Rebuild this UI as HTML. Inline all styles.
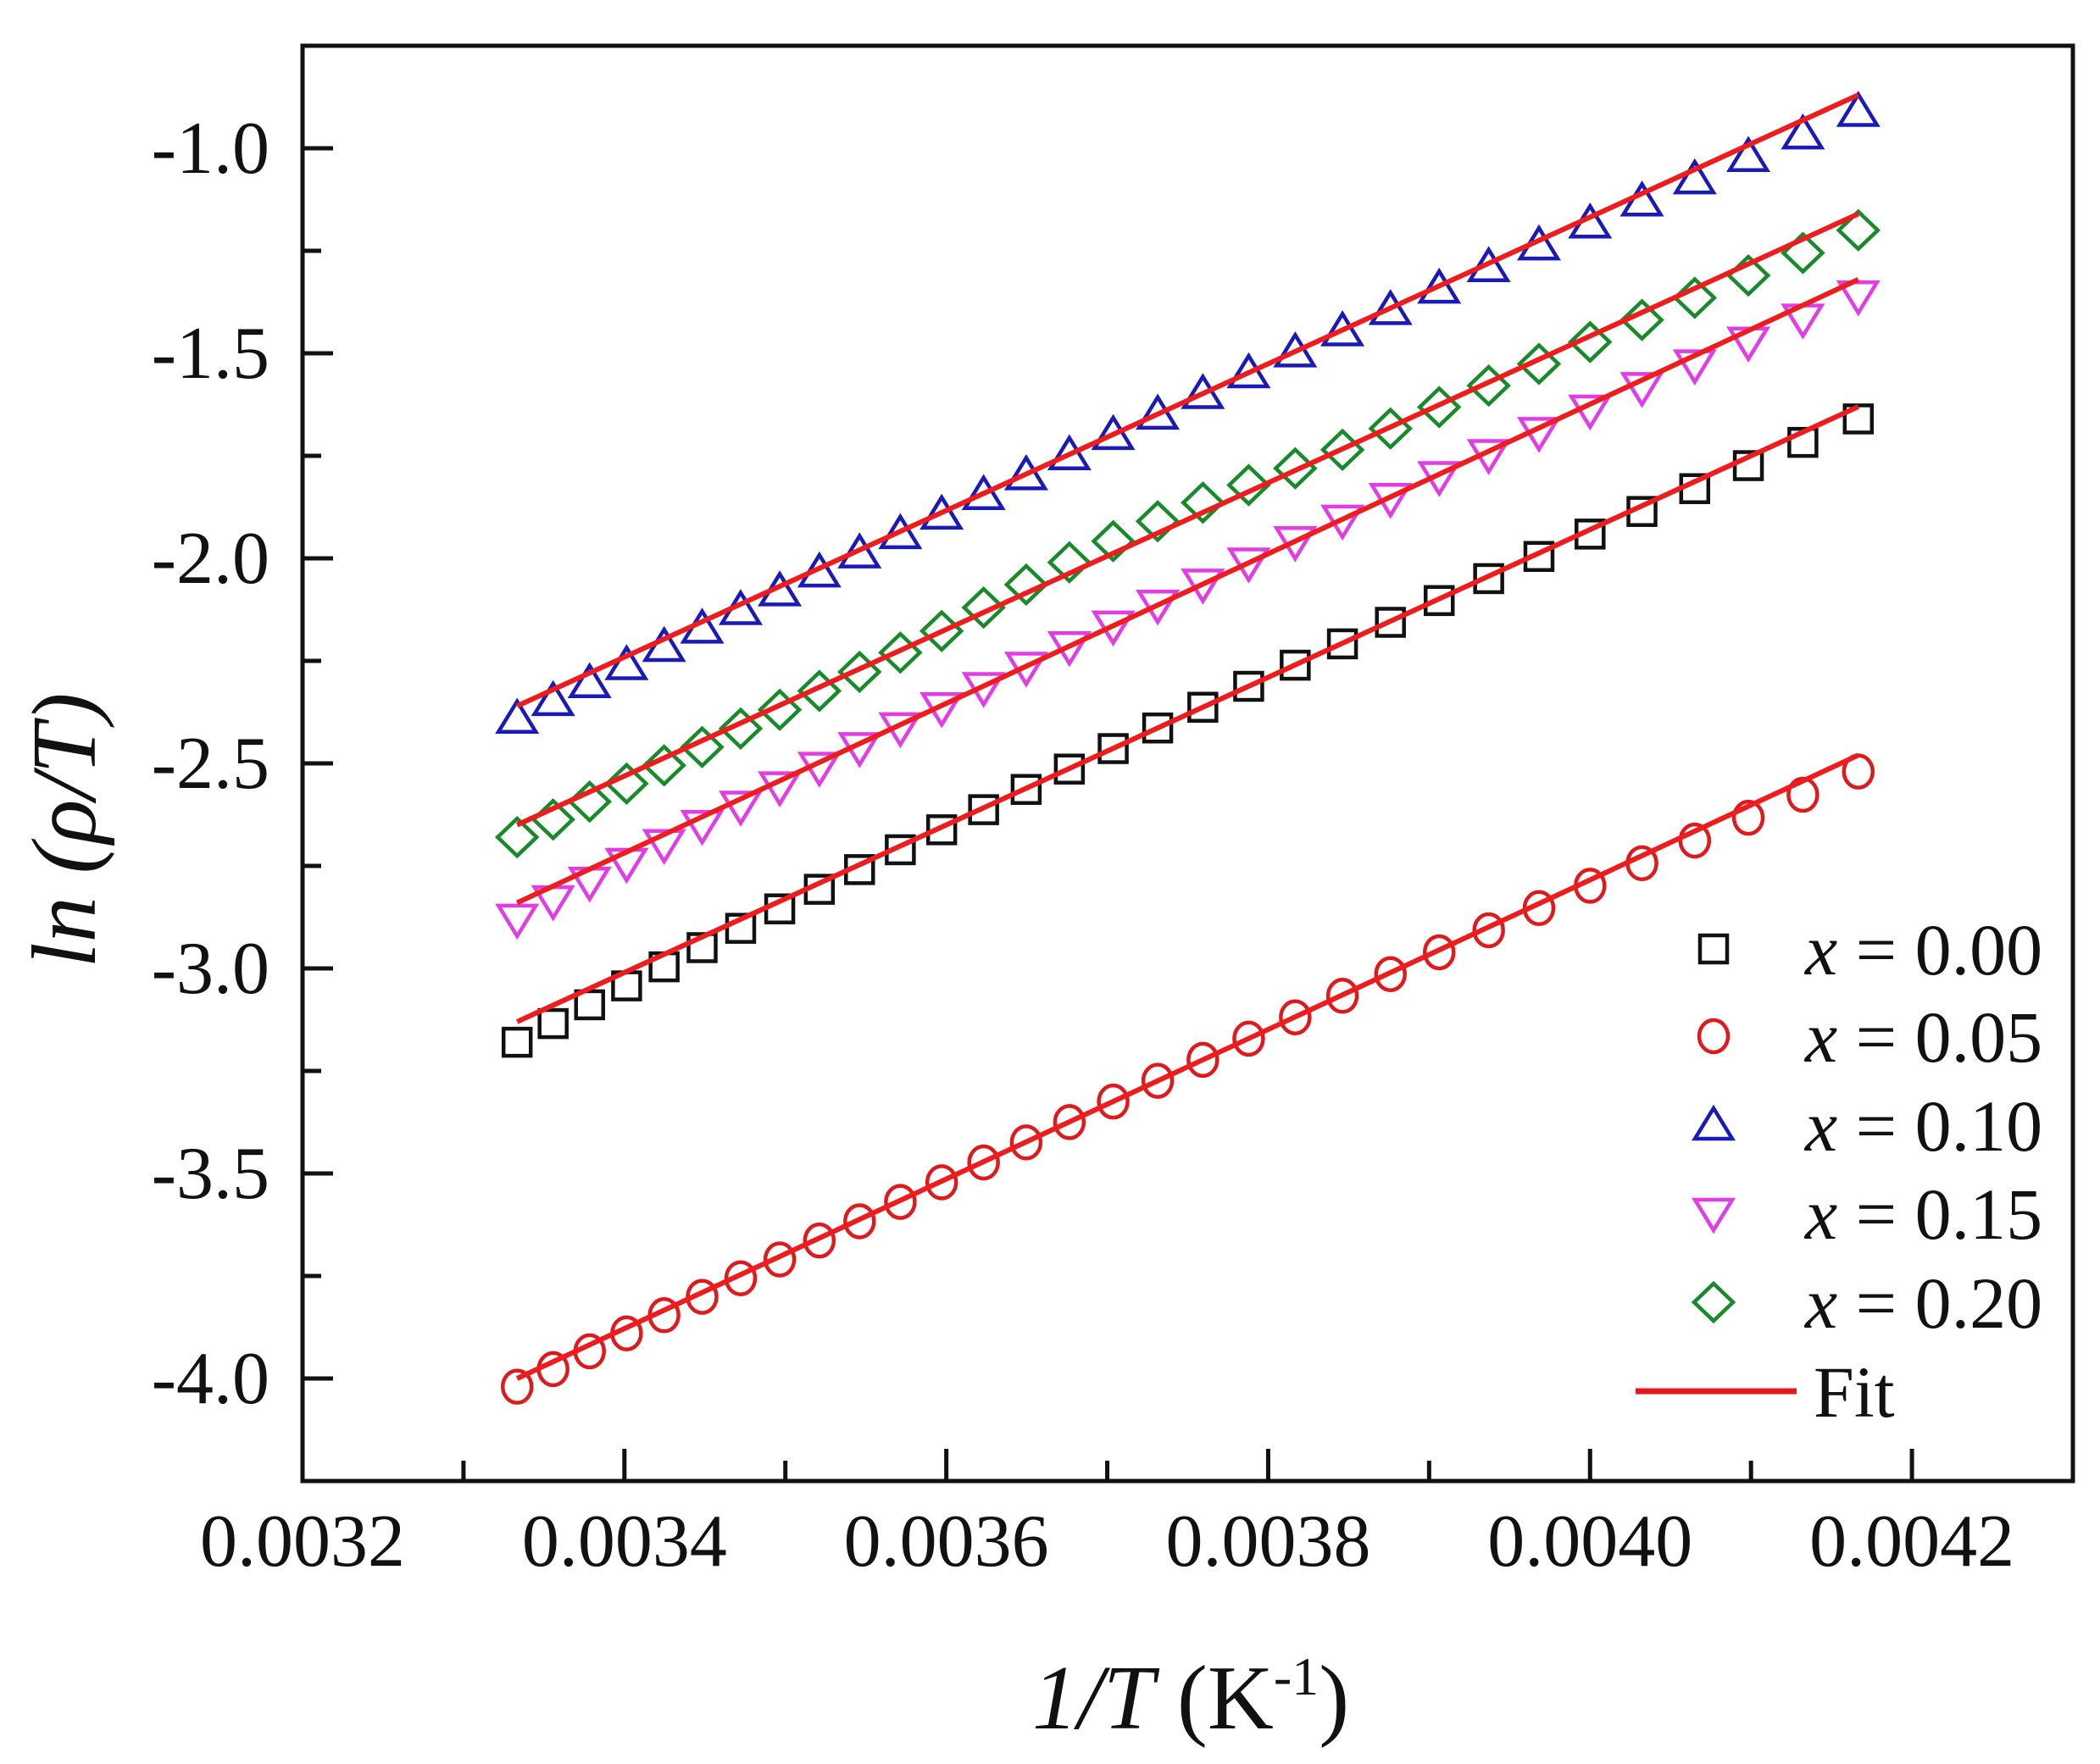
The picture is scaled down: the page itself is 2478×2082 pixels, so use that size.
<!DOCTYPE html>
<html><head><meta charset="utf-8">
<style>
html,body{margin:0;padding:0;background:#fff;}
svg{display:block;}
text{font-family:"Liberation Serif","Times New Roman",serif;fill:#111;}
</style></head>
<body>
<svg id="s" width="2478" height="2082" viewBox="0 0 2478 2082" xmlns="http://www.w3.org/2000/svg">
<rect width="2478" height="2082" fill="#fff"/>
<g id="plot"></g>
<rect x="357" y="54" width="2089" height="1694" fill="none" stroke="#111" stroke-width="5"/>
<g id="ticks" stroke="#111" stroke-width="5"></g>
<g id="labels" font-size="88"></g>
<text transform="translate(112,980) rotate(-90)" text-anchor="middle" font-size="108" font-style="italic">ln (ρ/T)</text>
<text x="1405" y="2040" text-anchor="middle" font-size="108"><tspan font-style="italic">1/T</tspan> (K<tspan dy="-40" font-size="64">-1</tspan><tspan dy="40">)</tspan></text>
<g id="legend" font-size="86"></g>
</svg>
<script>
var NS="http://www.w3.org/2000/svg";
function X(v){return 357+(v-0.0032)/0.0011*2089;}
function Y(v){return 54+(-0.75-v)/3.5*1694;}
function el(tag,attrs,parent,txt){var e=document.createElementNS(NS,tag);for(var k in attrs)e.setAttribute(k,attrs[k]);if(txt!==undefined)e.textContent=txt;parent.appendChild(e);return e;}
var ticks=document.getElementById('ticks'),labels=document.getElementById('labels'),plot=document.getElementById('plot'),legend=document.getElementById('legend');
for(var i=0;i<=10;i++){var v=0.0032+i*0.0001;var x=X(v);var major=(i%2==0);
 el('line',{x1:x,y1:1748,x2:x,y2:1748-(major?38:24)},ticks);
 if(major) el('text',{x:x,y:1848,'text-anchor':'middle'},labels,v.toFixed(4));}
for(var j=0;j<=13;j++){var v=-1.0-j*0.25;if(v<-4.25)break;var y=Y(v);var major=(j%2==0);
 el('line',{x1:357,y1:y,x2:357+(major?36:22),y2:y},ticks);
 if(major) el('text',{x:318,y:y+29,'text-anchor':'end'},labels,v.toFixed(1));}
var series=[
 {c:'#111',m:'sq',a:-3.13,b:-1.63,d:[-0.05,-0.03]},
 {c:'#e0191c',m:'ci',a:-4.00,b:-2.48,d:[-0.02,-0.04]},
 {c:'#1a1ab8',m:'tu',a:-2.36,b:-0.87,d:[-0.03,-0.04]},
 {c:'#e23ce6',m:'td',a:-2.84,b:-1.32,d:[-0.04,-0.04]},
 {c:'#178a2a',m:'di',a:-2.65,b:-1.16,d:[-0.03,-0.04]}
];
var x0=1/300,x1=1/240;
function marker(m,cx,cy,c,g){var st={fill:'none',stroke:c,'stroke-width':4.5};
 if(m=='sq'){el('rect',Object.assign({x:cx-16,y:cy-16,width:32,height:32},st),g);}
 else if(m=='ci'){el('ellipse',Object.assign({cx:cx,cy:cy,rx:17,ry:19},st),g);}
 else if(m=='tu'){el('polygon',Object.assign({points:(cx)+','+(cy-20)+' '+(cx+22)+','+(cy+16)+' '+(cx-22)+','+(cy+16)},st),g);}
 else if(m=='td'){el('polygon',Object.assign({points:(cx)+','+(cy+20)+' '+(cx+22)+','+(cy-16)+' '+(cx-22)+','+(cy-16)},st),g);}
 else if(m=='di'){el('polygon',Object.assign({points:(cx)+','+(cy-22)+' '+(cx+23)+','+(cy)+' '+(cx)+','+(cy+22)+' '+(cx-23)+','+(cy)},st),g);}
}
var gm=el('g',{},plot),gl=el('g',{},plot);
series.forEach(function(s){
 for(var T=300;T>=240;T-=2){var xv=1/T;var t=(xv-x0)/(x1-x0);
  var yv=s.a+(s.b-s.a)*t;
  var dev=(t<0.5? s.d[0]*Math.pow(1-2*t,2): s.d[1]*Math.pow(2*t-1,2));
  if(s.m=='di'&&t>0.3&&t<0.6) dev+=0.03*Math.sin((t-0.3)/0.3*Math.PI);
  marker(s.m,X(xv),Y(yv+dev),s.c,gm);}
 el('line',{x1:X(x0),y1:Y(s.a),x2:X(x1),y2:Y(s.b),stroke:'#ee1c1c','stroke-width':6},gl);
});
var rows=[['sq','#111','0.00',1120],['ci','#e0191c','0.05',1223],['tu','#1a1ab8','0.10',1328],['td','#e23ce6','0.15',1432],['di','#178a2a','0.20',1537]];
rows.forEach(function(r){marker(r[0],2022,r[3],r[1],legend);
 var t=el('text',{x:2130,y:r[3]+30},legend);
 el('tspan',{'font-style':'italic'},t,'x');
 el('tspan',{},t,' = '+r[2]);});
el('line',{x1:1930,y1:1642,x2:2120,y2:1642,stroke:'#e0191c','stroke-width':7},legend);
el('text',{x:2140,y:1672},legend,'Fit');
</script>
</body></html>
